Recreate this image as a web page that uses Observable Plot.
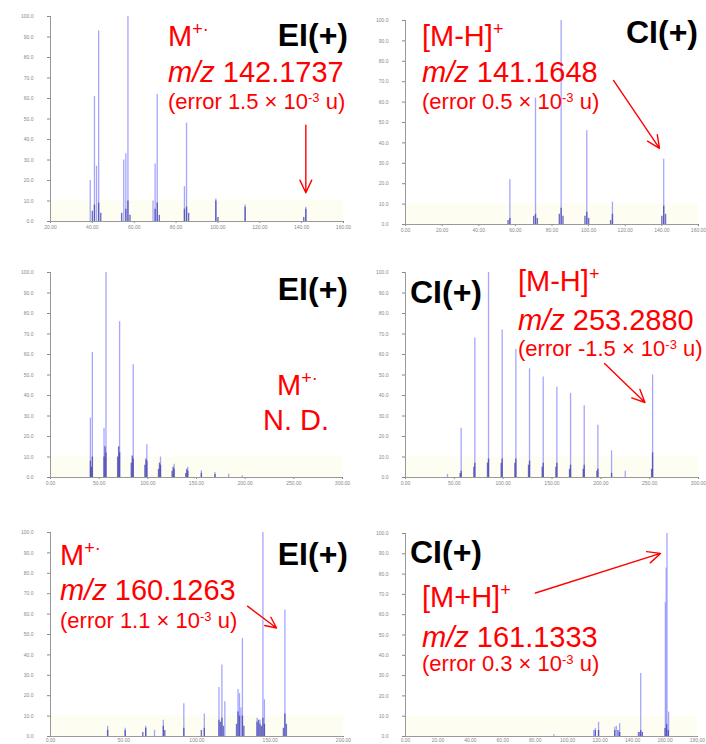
<!DOCTYPE html>
<html><head><meta charset="utf-8">
<script src="https://cdn.jsdelivr.net/npm/d3@7"></script>
<script src="https://cdn.jsdelivr.net/npm/@observablehq/plot@0.6"></script>
<style>
html,body{margin:0;padding:0;background:#fff;}
#fig{position:relative;width:706px;height:744px;overflow:hidden;font-family:"Liberation Sans",Arial,sans-serif;}
.cell{position:absolute;}
.cell svg{overflow:visible;}
#ann{position:absolute;left:0;top:0;}
</style></head><body><div id="fig"></div>
<script>
// ---- data: [m/z, relative intensity] ----
const ei1Peaks = [[39,20],[41,61],[42,27],[43,93],[55,30],[56,33],[57,100],[69,10],[70,28],[71,62],[84,17],[85,48],[99,11],[113,8],[142,7]];
const ei1Base  = [[40,5],[41,8],[43,9],[44,4],[54,4],[56,6],[57,10],[58,3],[70,6],[71,9],[72,3],[84,6],[85,7],[86,4],[99,10],[100,2],[113,7],[141,2],[142,6]];
const ci1Peaks = [[57,22],[71,62],[85,100],[99,46],[113,11],[141,32]];
const ci1Base  = [[56,2],[57,3],[70,4],[71,5],[72,3],[84,5],[85,8],[86,4],[98,4],[99,6],[100,3],[112,2],[113,5],[140,4],[141,9],[142,5]];
const ei2Peaks = [[41,29],[43,61],[55,24],[57,100],[71,76],[85,55],[99,16],[113,10],[127,6.5],[141,5],[155,3.3],[169,2.4],[183,1.6],[197,0.8]];
const ei2Base  = [[41,8],[42,5],[43,10],[55,10],[56,15],[57,12],[69,10],[70,15],[71,12],[83,7],[84,10.5],[85,9],[97,6],[98,9],[99,8],[111,4],[112,7],[113,6],[125,3],[126,5],[127,4],[139,2],[140,4],[141,3],[155,2],[169,1.5]];
const ci2Peaks = [[43,1.5],[57,24],[71,68],[85,100],[99,72],[113,62.5],[127,53],[141,49],[155,44],[169,41],[183,35],[197,25.5],[211,13],[225,3],[253,50]];
const ci2Base  = [[56,2],[57,3],[70,5],[71,7],[84,7],[85,9],[98,7],[99,9],[112,7],[113,9],[126,6],[127,8],[140,5],[141,7],[154,5],[155,7],[168,4],[169,6],[182,4],[183,6],[196,3],[197,4],[211,2],[252,4],[253,12]];
const ei3Peaks = [[39,5],[51,4],[65,5],[71,3],[77,8],[91,16],[105,11],[115,24],[117,35],[119,17],[128,23],[129,21],[130,14],[131,48],[141,9],[143,8],[145,100],[146,18],[160,62]];
const ei3Base  = [[39,3],[51,3],[63,2],[65,4],[77,5],[78,3],[91,4],[103,3],[105,4],[115,8],[116,7],[117,9],[118,5],[127,6],[128,12],[129,10],[131,10],[132,5],[141,7],[142,8],[143,6],[144,5],[145,9],[146,6],[159,4],[160,11],[161,6]];
const ci3Peaks = [[91.5,1],[116,3],[117,4],[119,7],[129,4.5],[130,5],[132,6.3],[143.5,2],[145,31],[160.2,66],[160.7,83],[161.2,100],[162.2,12]];
const ci3Base  = [[117,3],[119,3],[129,3],[131,3],[132,2],[144,2],[145,3],[146,2],[160,4],[161,6],[162,3]];

// tick values
const yTicks = d3.range(0, 101, 10);
const xTicks1 = d3.range(20, 161, 20);
const xTicks2 = d3.range(0, 161, 20);
const xTicks3 = d3.range(0, 301, 50);
const xTicks5 = d3.range(0, 201, 50);
const xTicks6 = d3.range(0, 181, 20);

// arrows (data units)
const arrow1 = {x1:142, y1:47, x2:142, y2:14};
const arrow2 = {x1:113.6, y1:70.6, x2:138.7, y2:37.3};
const arrow4 = {x1:203.8, y1:55.6, x2:245.2, y2:36.6};
const arrow5 = {x1:134.5, y1:63.9, x2:154.3, y2:53.2};
const arrow6 = {x1:80.1, y1:70.7, x2:157.2, y2:90.2};
const lowBand = [{lo:0, hi:10}];

const panels = [
  {left:0,   top:0,   width:353, height:240, m:[16,10,19,50], dom:[20,160], ticks:xTicks1, peaks:ei1Peaks, base:ei1Base, arrow:arrow1, ts:2, tp:2},
  {left:355, top:0,   width:351, height:240, m:[20,8,16,50],  dom:[0,160],  ticks:xTicks2, peaks:ci1Peaks, base:ci1Base, arrow:arrow2, ts:2, tp:2},
  {left:0,   top:260, width:353, height:240, m:[12,11,23,50], dom:[0,300],  ticks:xTicks3, peaks:ei2Peaks, base:ei2Base, arrow:null, ts:2, tp:2},
  {left:355, top:260, width:351, height:240, m:[12,8,23,50],  dom:[0,300],  ticks:xTicks3, peaks:ci2Peaks, base:ci2Base, arrow:arrow4, ts:2, tp:2},
  {left:0,   top:500, width:353, height:244, m:[32,10,8,50],  dom:[0,200],  ticks:xTicks5, peaks:ei3Peaks, base:ei3Base, arrow:arrow5, ts:1, tp:1},
  {left:355, top:500, width:351, height:244, m:[33,9,8,50],   dom:[0,180],  ticks:xTicks6, peaks:ci3Peaks, base:ci3Base, arrow:arrow6, ts:1, tp:1}
];

const fig = document.getElementById("fig");
for (const p of panels) {
  const marks = [
    Plot.rect(lowBand, {x1: p.dom[0], x2: p.dom[1], y1: "lo", y2: "hi", fill: "#fdfdf1"}),
    Plot.ruleX(p.peaks, {x: d => d[0], y1: 0, y2: d => d[1], stroke: "#9090ff", strokeWidth: 1.3, strokeOpacity: 0.8}),
    Plot.ruleX(p.base, {x: d => d[0], y1: 0, y2: d => d[1], stroke: "#4040b0", strokeWidth: 1.4, strokeOpacity: 0.75}),
    Plot.ruleY([0], {stroke: "#999", strokeWidth: 1}),
    Plot.ruleX([p.dom[0]], {stroke: "#999", strokeWidth: 1})
  ];
  if (p.arrow) marks.push(Plot.arrow([p.arrow], {x1: "x1", y1: "y1", x2: "x2", y2: "y2", stroke: "#ff0000", strokeWidth: 1.4, headLength: 15, headAngle: 50}));
  const chart = Plot.plot({
    width: p.width, height: p.height,
    marginTop: p.m[0], marginRight: p.m[1], marginBottom: p.m[2], marginLeft: p.m[3],
    style: {fontSize: "5px", fontFamily: "Liberation Sans, Arial, sans-serif", color: "#888", background: "transparent"},
    x: {domain: p.dom, ticks: p.ticks, tickFormat: d => d.toFixed(2), tickSize: p.ts, tickPadding: p.tp, label: null},
    y: {domain: [0, 100], ticks: yTicks, tickFormat: d => d.toFixed(1), tickSize: 3, tickPadding: 14, label: null},
    marks
  });
  const cell = document.createElement("div");
  cell.className = "cell";
  cell.style.left = p.left + "px";
  cell.style.top = p.top + "px";
  cell.appendChild(chart);
  fig.appendChild(cell);
}

// ---- annotation text ----
const red = "#ff0000";
const sup = (t, fs, dy) => `<tspan dy="${-dy}" font-size="${fs}">${t}</tspan>`;
const err = (x, y, v) => `<text x="${x}" y="${y}" font-size="22" fill="${red}">(error ${v} × 10<tspan dy="-7" font-size="13">-3</tspan><tspan dy="7"> u)</tspan></text>`;
const mz = (x, y, v) => `<text x="${x}" y="${y}" font-size="29" fill="${red}"><tspan font-style="italic">m/z</tspan> ${v}</text>`;
const ion = (x, y, t) => `<text x="${x}" y="${y}" font-size="29" fill="${red}">${t}${sup("+", 18, 11)}</text>`;
const mrad = (x, y) => `<text x="${x}" y="${y}" font-size="29" fill="${red}">M${sup("+·", 18, 11)}</text>`;
const mode = (x, y, t, anchor) => `<text x="${x}" y="${y}" font-size="32" font-weight="bold" fill="#000" text-anchor="${anchor}">${t}</text>`;

const ann = `<svg id="ann" width="706" height="744" font-family="Liberation Sans, Arial, sans-serif">
${mrad(168, 46)}${mz(168, 82, "142.1737")}${err(168, 109, "1.5")}${mode(348, 46, "EI(+)", "end")}
${ion(422, 46, "[M-H]")}${mz(422, 82, "141.1648")}${err(422, 109, "0.5")}${mode(698, 43, "CI(+)", "end")}
${mode(348, 300, "EI(+)", "end")}${mrad(277, 395)}<text x="263" y="430" font-size="29" fill="${red}">N. D.</text>
${mode(410, 303, "CI(+)", "start")}${ion(518, 291, "[M-H]")}${mz(518, 330, "253.2880")}${err(518, 356, "-1.5")}
${mrad(60, 565)}${mz(60, 600, "160.1263")}${err(60, 628, "1.1")}${mode(348, 565, "EI(+)", "end")}
${mode(410, 563, "CI(+)", "start")}${ion(422, 607, "[M+H]")}${mz(422, 647, "161.1333")}${err(422, 671, "0.3")}
</svg>`;
fig.insertAdjacentHTML("beforeend", ann);
</script></body></html>
